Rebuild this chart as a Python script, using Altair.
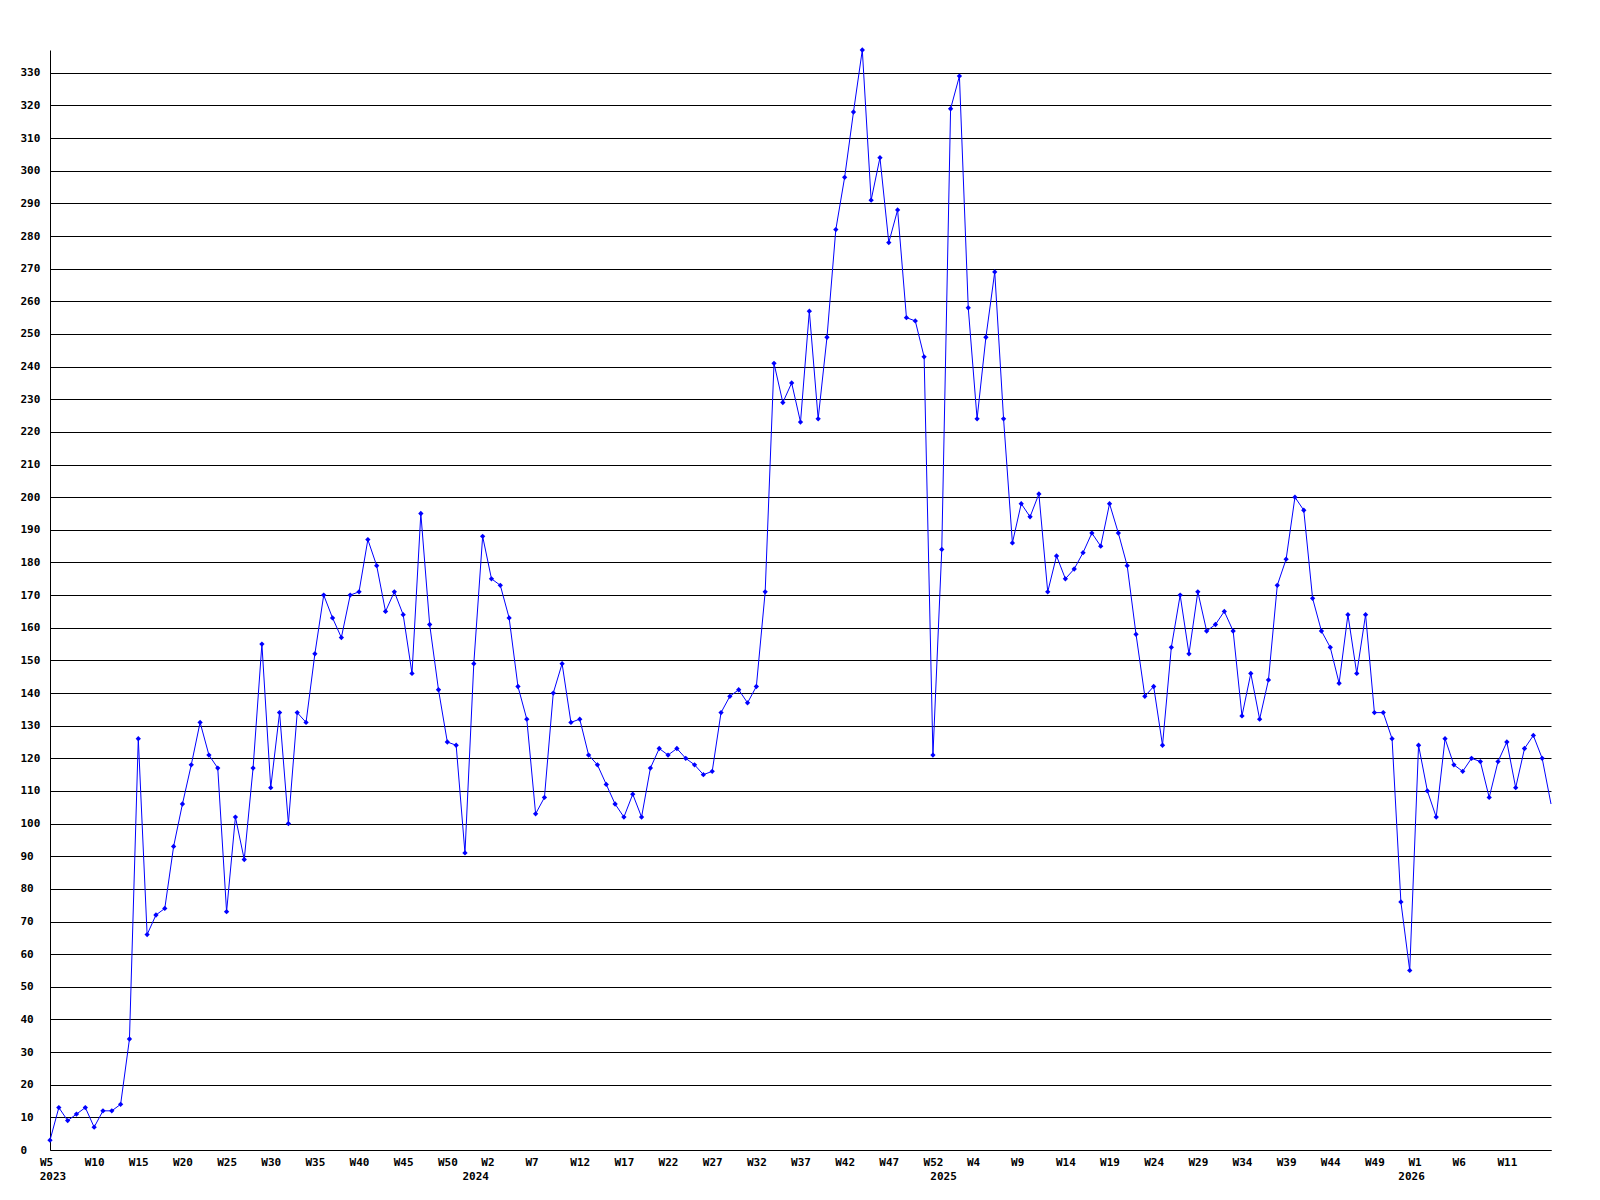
import json
import altair as alt
import pandas as pd

# Weekly values, 2023 W5 ... 2026 W16 (one point per week, 53 week slots per year)
values = [
    3, 13, 9, 11, 13, 7, 12, 12, 14, 34, 126, 66, 72, 74, 93, 106, 118, 131, 121, 117,
    73, 102, 89, 117, 155, 111, 134,
    100, 134, 131, 152, 170, 163, 157, 170, 171, 187, 179, 165, 171, 164, 146, 195, 161,
    141, 125, 124, 91, 149, 188, 175, 173, 163,
    142, 132, 103, 108, 140, 149, 131, 132, 121, 118, 112, 106, 102, 109, 102, 117, 123,
    121, 123, 120, 118, 115, 116, 134, 139, 141, 137, 142, 171, 241,
    229, 235, 223, 257, 224, 249, 282, 298, 318, 337, 291, 304, 278, 288, 255, 254, 243,
    121, 184, 319, 329, 258, 224, 249, 269, 224,
    186, 198, 194, 201, 171, 182, 175, 178, 183, 189, 185, 198, 189, 179, 158, 139, 142,
    124, 154, 170, 152, 171, 159, 161, 165, 159,
    133, 146, 132, 144, 173, 181, 200, 196, 169, 159, 154, 143, 164, 146, 164, 134, 134,
    126, 76,
    55, 124, 110, 102, 126, 118, 116, 120, 119, 108, 119, 125, 111, 123, 127, 120, 106,
]

# x tick labels, one every 5 weeks starting at the first point
tick_labels = [
    "W5", "W10", "W15", "W20", "W25", "W30", "W35", "W40", "W45", "W50",
    "W2", "W7", "W12", "W17", "W22", "W27", "W32", "W37", "W42", "W47", "W52",
    "W4", "W9", "W14", "W19", "W24", "W29", "W34", "W39", "W44", "W49",
    "W1", "W6", "W11",
]
tick_step = 5

years = ["2023", "2024", "2025", "2026"]
year_start = [0, 49, 102, 155]   # index of the first week of each year in the series

y_ticks = list(range(0, 331, 10))

FONT = "DejaVu Sans Mono"
BLUE = "#0000ff"

df = pd.DataFrame({"i": list(range(len(values))), "v": values})
df["last"] = df["i"] == len(values) - 1
years_df = pd.DataFrame({"i": year_start, "year": years})

x_scale = alt.Scale(domain=[0, len(values) - 1], nice=False, zero=False)
y_scale = alt.Scale(domain=[0, max(values)], nice=False)

tick_vals = [k * tick_step for k in range(len(tick_labels))]
lab = f"{json.dumps(tick_labels)}[round(datum.value / {tick_step})]"

x_axis = alt.Axis(
    values=tick_vals, labelExpr=lab, grid=False, ticks=False,
    labelPadding=6, labelBaseline="top", labelFlush=False, labelOverlap=False,
    labelBound=False, title=None, domain=True, domainColor="black",
    labelOffset={"expr": f"length({lab}) == 2 ? -4 : 0"},
)
y_axis = alt.Axis(
    values=y_ticks, grid=True, gridColor="black", gridOpacity=1, gridWidth=1,
    ticks=False, labelAlign="left", labelPadding=30, labelOverlap=False,
    labelBaseline="middle", title=None, domain=True, domainColor="black",
)

X = alt.X("i:Q", scale=x_scale, axis=x_axis)
Y = alt.Y("v:Q", scale=y_scale, axis=y_axis)

line = alt.Chart(df).mark_line(color=BLUE, strokeWidth=1).encode(x=X, y=Y)

points = alt.Chart(df).transform_filter("!datum.last").mark_point(
    shape="diamond", filled=True, size=28, color=BLUE, opacity=1
).encode(x=X, y=Y)

year_first = alt.Chart(years_df).transform_filter("datum.i == 0").mark_text(
    font=FONT, fontWeight="bold", fontSize=11, color="black",
    align="center", baseline="top", dx=3,
).encode(x=X, y=alt.value(1121), text="year:N")

year_rest = alt.Chart(years_df).transform_filter("datum.i > 0").mark_text(
    font=FONT, fontWeight="bold", fontSize=11, color="black",
    align="center", baseline="top", dx=-7,
).encode(x=X, y=alt.value(1121), text="year:N")

chart = alt.layer(line, points, year_first, year_rest).properties(
    width=1501,
    height=1100,
    autosize="none",
    padding={"left": 42, "top": 42, "right": 40, "bottom": 45},
    background="white",
).configure_axis(
    labelFont=FONT, labelFontWeight="bold", labelFontSize=11, labelColor="black",
    domainColor="black", domainWidth=1, tickSize=0,
).configure_view(strokeWidth=0)

chart.save("out.html", embed_options={"renderer": "svg", "actions": False})
